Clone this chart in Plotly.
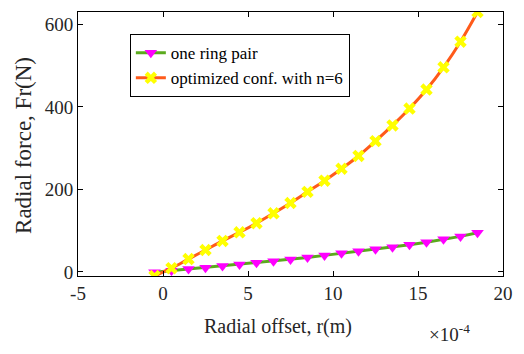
import plotly.graph_objects as go

# Radial offset in units of 1e-4 m
offset = [-0.5, 0.5, 1.5, 2.5, 3.5, 4.5, 5.5, 6.5, 7.5, 8.5,
          9.5, 10.5, 11.5, 12.5, 13.5, 14.5, 15.5, 16.5, 17.5, 18.5]
one_ring_pair = [-1, 3, 7, 10, 14, 18, 22, 26, 30, 35,
                 40, 45, 50, 55, 60, 66, 72, 79, 86, 95]
optimized_n6 = [-10, 9, 31, 53, 75, 96, 118, 142, 167, 194,
                221, 250, 281, 317, 355, 396, 442, 496, 558, 630]
x_ticks = [-5, 0, 5, 10, 15, 20]
y_ticks = [0, 200, 400, 600]

FONT = "Liberation Serif, Times New Roman, serif"
TXT = "#262626"

fig = go.Figure()
fig.add_trace(go.Scatter(
    x=offset, y=one_ring_pair, mode="lines+markers", name="one ring pair",
    line=dict(color="#5BAA1E", width=3),
    marker=dict(symbol="triangle-down", color="#FF00FF", size=11, line=dict(width=0)),
))
fig.add_trace(go.Scatter(
    x=offset, y=optimized_n6, mode="lines+markers", name="optimized conf. with n=6",
    line=dict(color="#FF5A1A", width=3, shape="spline"),
    marker=dict(symbol="x", color="#FFFF00", size=11, line=dict(width=0)),
))

axis_common = dict(
    showgrid=False, zeroline=False, showline=True, linecolor="black", linewidth=1,
    mirror="ticks", ticks="inside", ticklen=5, tickcolor="black",
    tickfont=dict(family=FONT, size=19, color=TXT),
)
fig.update_xaxes(range=[-5, 20], tickvals=x_ticks, ticktext=[str(v) for v in x_ticks], **axis_common)
fig.update_yaxes(range=[-10, 630], tickvals=y_ticks, **axis_common)

fig.update_layout(
    width=524, height=354,
    margin=dict(l=78, r=11, t=11, b=78),
    paper_bgcolor="white", plot_bgcolor="white",
    font=dict(family=FONT, color=TXT),
    showlegend=True,
    legend=dict(
        x=0.122, y=0.916, xanchor="left", yanchor="top",
        bgcolor="white", bordercolor="black", borderwidth=1,
        font=dict(family=FONT, size=17, color="black"),
        itemwidth=30, tracegroupgap=0,
    ),
    annotations=[
        dict(text="Radial offset, r(m)", xref="paper", yref="paper",
             x=(283 - 78) / 435, y=-(327 - 276) / 265.3, xanchor="center", yanchor="middle",
             showarrow=False, font=dict(family=FONT, size=20, color=TXT)),
        dict(text="Radial force, Fr(N)", xref="paper", yref="paper",
             x=-(78 - 22) / 435, y=(276 - 145) / 265.3, xanchor="center", yanchor="middle",
             textangle=-90, showarrow=False, font=dict(family=FONT, size=23, color=TXT)),
        dict(text="×10<sup>-4</sup>", xref="paper", yref="paper",
             x=(458 - 78) / 435, y=-(333 - 276) / 265.3, xanchor="center", yanchor="middle",
             showarrow=False, font=dict(family=FONT, size=19, color=TXT)),
    ],
)

fig.write_html("out.html", config={"displayModeBar": False},
               post_script="document.body.style.margin='0';document.body.style.padding='0';")
